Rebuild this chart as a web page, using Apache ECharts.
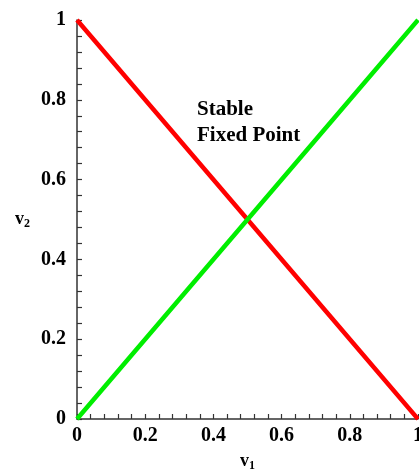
<!DOCTYPE html>
<html><head><meta charset="utf-8">
<script src="https://cdn.jsdelivr.net/npm/echarts@6/dist/echarts.min.js"></script>
<style>html,body{margin:0;padding:0;background:#fff}#c{width:419px;height:473px}</style>
</head><body><div id="c"></div>
<script>
const redX = [0, 0.25, 0.5, 0.75, 1];
const redY = [1, 0.75, 0.5, 0.25, 0];
const greenX = [0, 0.25, 0.5, 0.75, 1];
const greenY = [0, 0.25, 0.5, 0.75, 1];
const annotation = ['Stable', 'Fixed Point'];
const xName = 'v';
const yName = 'v';

const chart = echarts.init(document.getElementById('c'));
const font = '"Liberation Serif", "Times New Roman", serif';
function fmt(v){
  const r = Math.round(v * 100) / 100;
  if (Math.abs(r * 5 - Math.round(r * 5)) < 1e-6) return String(r);
  return '';
}
const axisCommon = {
  type: 'value', min: 0, max: 1, interval: 0.04,
  axisLine: {show: true, lineStyle: {color: '#333', width: 1.5}},
  axisTick: {show: true, inside: true, length: 5, lineStyle: {color: '#333', width: 1.2}},
  splitLine: {show: false},
  axisLabel: {formatter: fmt, color: '#000', fontFamily: font, fontWeight: 'bold', fontSize: 20, showMaxLabel: true, showMinLabel: true, hideOverlap: false}
};
const richName = {
  a: {fontFamily: font, fontWeight: 'bold', fontSize: 18, color: '#000'},
  s: {fontFamily: font, fontWeight: 'bold', fontSize: 12, color: '#000', verticalAlign: 'bottom', padding: [9, 0, 0, 0]}
};
chart.setOption({
  animation: false,
  grid: {left: 77, top: 20, right: 1, bottom: 54, containLabel: false, outerBoundsMode: 'none'},
  xAxis: Object.assign({}, axisCommon, {
    axisLabel: Object.assign({}, axisCommon.axisLabel, {margin: 7}),
    name: '{a|' + xName + '}{s|1}', nameLocation: 'middle', nameGap: 32,
    nameTextStyle: {rich: richName}
  }),
  yAxis: Object.assign({}, axisCommon, {
    axisLabel: Object.assign({}, axisCommon.axisLabel, {margin: 11}),
    name: '{a|' + yName + '}{s|2}', nameLocation: 'middle', nameGap: 47, nameRotate: 0,
    nameTextStyle: {rich: richName}
  }),
  graphic: [{
    type: 'text', left: 197, top: 97,
    style: {text: annotation.join('\n'), fontFamily: font, fontWeight: 'bold', fontSize: 21, lineHeight: 26, fill: '#000'}
  }],
  series: [
    {type: 'line', data: redX.map((x, i) => [x, redY[i]]), showSymbol: false, lineStyle: {color: '#ff0000', width: 4.5}, clip: false},
    {type: 'line', data: greenX.map((x, i) => [x, greenY[i]]), showSymbol: false, lineStyle: {color: '#00ee00', width: 4.5}, clip: false}
  ]
});
</script></body></html>
